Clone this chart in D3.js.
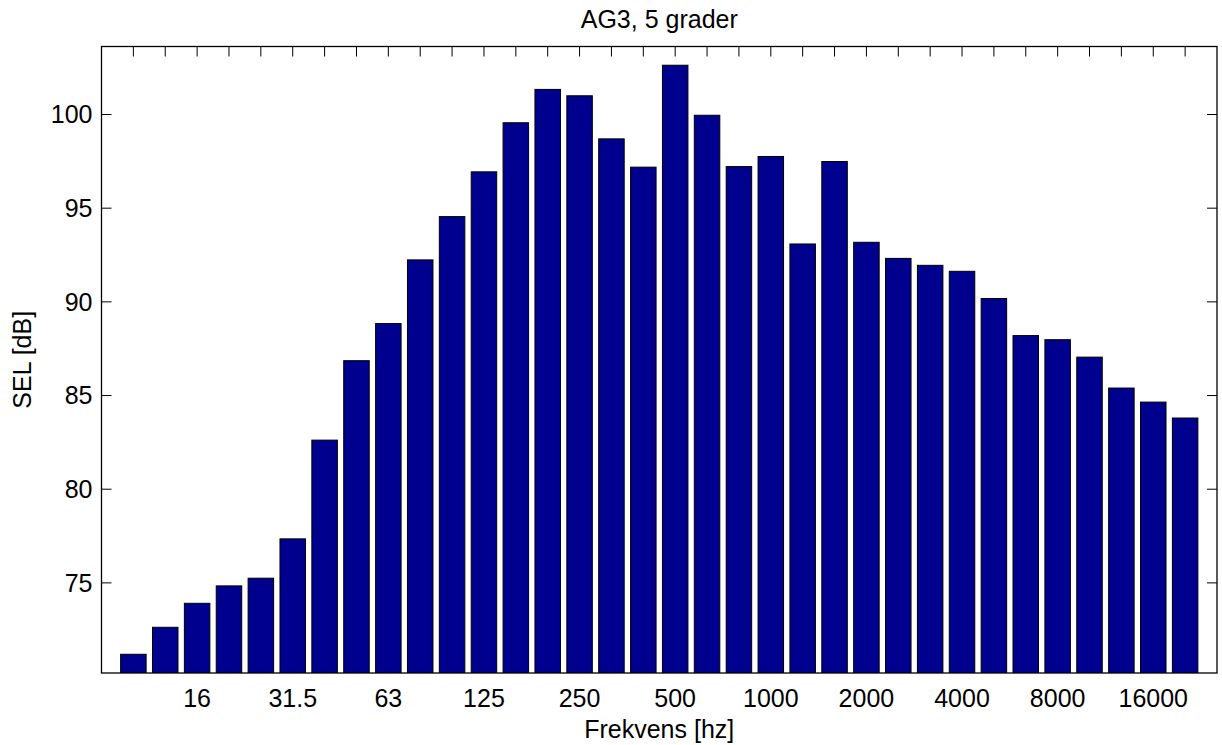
<!DOCTYPE html>
<html>
<head>
<meta charset="utf-8">
<script src="https://cdn.jsdelivr.net/npm/d3@7"></script>
<style>
  html, body { margin: 0; padding: 0; background: #fff; }
  svg { display: block; }
  text { font-family: "Liberation Sans", Arial, Helvetica, sans-serif; fill: #000; }
</style>
</head>
<body>
<svg id="chart" width="1222" height="745"></svg>
<script>
// One-third octave band centre frequencies [Hz]
const bands = [10, 12.5, 16, 20, 25, 31.5, 40, 50, 63, 80, 100, 125, 160, 200, 250,
  315, 400, 500, 630, 800, 1000, 1250, 1600, 2000, 2500, 3150, 4000, 5000, 6300,
  8000, 10000, 12500, 16000, 20000];

// Sound exposure level per band [dB]
const sel = [71.19, 72.63, 73.91, 74.84, 75.25, 77.35, 82.62, 86.86, 88.84, 92.24,
  94.55, 96.94, 99.56, 101.34, 101.0, 98.7, 97.19, 102.63, 99.96, 97.22, 97.76,
  93.09, 97.49, 93.18, 92.32, 91.95, 91.63, 90.18, 88.2, 87.98, 87.05, 85.4, 84.65, 83.8];

// Bands that carry a written tick label
const labelledBands = [16, 31.5, 63, 125, 250, 500, 1000, 2000, 4000, 8000, 16000];

// Value-axis ticks
const yTicks = [75, 80, 85, 90, 95, 100];

const titleText = "AG3, 5 grader";
const xLabel = "Frekvens [hz]";
const yLabel = "SEL [dB]";

const svg = d3.select("#chart");
const plot = { left: 101.5, right: 1217, top: 46.5, bottom: 673 };

// Bars sit at positions 1..N, axis runs from 0 to N+1
const x = d3.scaleLinear().domain([0, bands.length + 1]).range([plot.left, plot.right]);
const y = d3.scaleLinear()
  .domain([d3.min(sel) - 1, d3.max(sel) + 1])
  .range([plot.bottom, plot.top]);

const barW = (x(1) - x(0)) * 0.8;
const tickLen = 10;

// Clip bars to the axes box
svg.append("clipPath").attr("id", "box")
  .append("rect")
  .attr("x", plot.left).attr("y", plot.top)
  .attr("width", plot.right - plot.left).attr("height", plot.bottom - plot.top);

// Ticks drawn inward (under the bars)
const tickG = svg.append("g");
const xPositions = bands.map((b, i) => i + 1);
tickG.selectAll("line.xb").data(xPositions).join("line")
  .attr("x1", d => x(d)).attr("x2", d => x(d))
  .attr("y1", plot.bottom).attr("y2", plot.bottom - tickLen)
  .attr("stroke", "#000").attr("stroke-width", 1);
tickG.selectAll("line.xt").data(xPositions).join("line")
  .attr("x1", d => x(d)).attr("x2", d => x(d))
  .attr("y1", plot.top).attr("y2", plot.top + tickLen)
  .attr("stroke", "#000").attr("stroke-width", 1);
tickG.selectAll("line.yl").data(yTicks).join("line")
  .attr("x1", plot.left).attr("x2", plot.left + tickLen)
  .attr("y1", d => y(d)).attr("y2", d => y(d))
  .attr("stroke", "#000").attr("stroke-width", 1);
tickG.selectAll("line.yr").data(yTicks).join("line")
  .attr("x1", plot.right).attr("x2", plot.right - tickLen)
  .attr("y1", d => y(d)).attr("y2", d => y(d))
  .attr("stroke", "#000").attr("stroke-width", 1);

// Bars
svg.append("g").attr("clip-path", "url(#box)")
  .selectAll("rect").data(sel).join("rect")
  .attr("x", (d, i) => x(i + 1) - barW / 2)
  .attr("width", barW)
  .attr("y", d => y(d))
  .attr("height", d => plot.bottom + 5 - y(d))
  .attr("fill", "#00008f")
  .attr("stroke", "#000")
  .attr("stroke-width", 1);

// Axes box
svg.append("rect")
  .attr("x", plot.left).attr("y", plot.top)
  .attr("width", plot.right - plot.left).attr("height", plot.bottom - plot.top)
  .attr("fill", "none").attr("stroke", "#000").attr("stroke-width", 1.3);

// Tick labels
svg.append("g").selectAll("text").data(labelledBands).join("text")
  .attr("x", d => x(bands.indexOf(d) + 1))
  .attr("y", 707)
  .attr("text-anchor", "middle")
  .style("font-size", "25px")
  .text(d => d);

svg.append("g").selectAll("text").data(yTicks).join("text")
  .attr("x", plot.left - 9)
  .attr("y", d => y(d))
  .attr("dy", "0.35em")
  .attr("text-anchor", "end")
  .style("font-size", "25px")
  .text(d => d);

// Title and axis labels
svg.append("text")
  .attr("x", (plot.left + plot.right) / 2).attr("y", 28)
  .attr("text-anchor", "middle").style("font-size", "25px")
  .text(titleText);

svg.append("text")
  .attr("x", (plot.left + plot.right) / 2).attr("y", 738)
  .attr("text-anchor", "middle").style("font-size", "25px")
  .text(xLabel);

svg.append("text")
  .attr("transform", `translate(31, ${(plot.top + plot.bottom) / 2}) rotate(-90)`)
  .attr("text-anchor", "middle").style("font-size", "25px")
  .text(yLabel);
</script>
</body>
</html>
